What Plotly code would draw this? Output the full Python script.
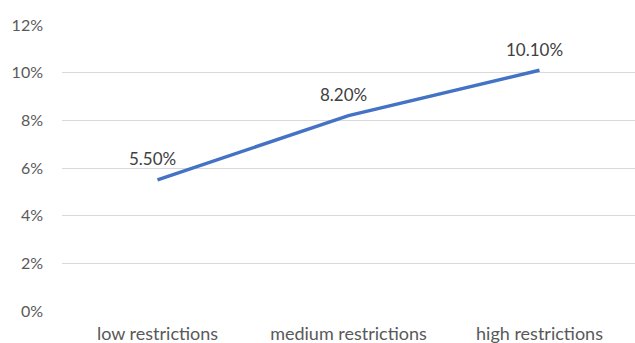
import plotly.graph_objects as go

categories = ["low restrictions", "medium restrictions", "high restrictions"]
values = [5.5, 8.2, 10.1]
labels = ["5.50%", "8.20%", "10.10%"]
y_ticks = [0, 2, 4, 6, 8, 10, 12]
y_tick_text = ["0%", "2%", "4%", "6%", "8%", "10%", "12%"]

FONT = "Lato"

fig = go.Figure()
fig.add_trace(go.Scatter(
    x=categories, y=values, mode="lines",
    line=dict(color="#4472C4", width=3.5),
    cliponaxis=False,
))
for c, v, t in zip(categories, values, labels):
    fig.add_annotation(
        x=c, y=v, text=t, showarrow=False, yshift=21, xshift=-5,
        font=dict(family=FONT, size=17, color="#404040"),
    )
fig.update_layout(
    width=635, height=343,
    margin=dict(l=62, r=0, t=25, b=32),
    paper_bgcolor="white", plot_bgcolor="white",
    showlegend=False,
    font=dict(family=FONT, size=16, color="#595959"),
)
fig.update_xaxes(
    type="category", range=[-0.5, 2.5], showgrid=False, zeroline=False,
    showline=False, ticks="", ticklabelstandoff=10, automargin=False,
    tickfont=dict(family=FONT, size=18, color="#595959"),
)
fig.update_yaxes(
    range=[0, 12], tickvals=y_ticks, ticktext=y_tick_text,
    showgrid=True, gridcolor="#D9D9D9", gridwidth=1,
    zeroline=False, showline=False, ticks="", ticklabelstandoff=18,
    automargin=False,
    tickfont=dict(family=FONT, size=16, color="#595959"),
)
fig.write_html("out.html")
